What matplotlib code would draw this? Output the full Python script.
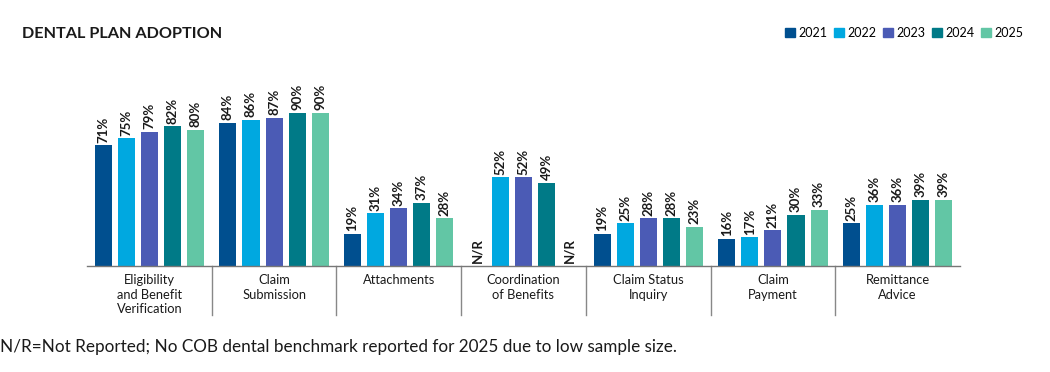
import matplotlib
matplotlib.use("Agg")
import matplotlib.pyplot as plt
import numpy as np

plt.rcParams['font.family'] = ['Lato', 'DejaVu Sans']

categories = ["Eligibility\nand Benefit\nVerification", "Claim\nSubmission", "Attachments",
              "Coordination\nof Benefits", "Claim Status\nInquiry", "Claim\nPayment", "Remittance\nAdvice"]
years = ["2021", "2022", "2023", "2024", "2025"]
values = {
    "2021": [71, 84, 19, None, 19, 16, 25],
    "2022": [75, 86, 31, 52, 25, 17, 36],
    "2023": [79, 87, 34, 52, 28, 21, 36],
    "2024": [82, 90, 37, 49, 28, 30, 39],
    "2025": [80, 90, 28, None, 23, 33, 39],
}
colors = ["#004F8F", "#00A8E0", "#4B5BB5", "#007A87", "#62C6A5"]

fig = plt.figure(figsize=(10.5, 3.72), dpi=100)
ax = fig.add_axes([87/1050, 106/372, 873/1050, 206/372])

x = np.arange(len(categories))
step = 0.185
width = 0.137
for k, yr in enumerate(years):
    vals = values[yr]
    for i, v in enumerate(vals):
        xp = x[i] + (k - 2) * step
        if v is None:
            ax.text(xp, 1.5, "N/R", rotation=90, ha='center', va='bottom',
                    fontsize=9.5, fontweight='bold', color='#1a1a1a')
            continue
        ax.bar(xp, v, width=width, color=colors[k], label=yr if i == 1 else None)
        ax.text(xp, v + 1.5, f"{v}%", rotation=90, ha='center', va='bottom',
                fontsize=9.5, fontweight='bold', color='#1a1a1a')

ax.set_xlim(-0.5, len(categories) - 0.5)
ax.set_ylim(0, 121)
for s in ['top', 'right', 'left']:
    ax.spines[s].set_visible(False)
ax.spines['bottom'].set_color('#777777')
ax.spines['bottom'].set_linewidth(1)
ax.set_yticks([])
ax.set_xticks([])

for i in range(1, len(categories)):
    ax.plot([i - 0.5, i - 0.5], [0, -0.24], transform=ax.get_xaxis_transform(),
            color='#888888', lw=1, clip_on=False)

for i, c in enumerate(categories):
    ax.text(x[i], -0.04, c, transform=ax.get_xaxis_transform(), ha='center', va='top',
            fontsize=9.3, color='#1a1a1a', linespacing=1.25)

fig.text(22/1050, 1 - 34/372, "DENTAL PLAN ADOPTION", fontsize=11.7, fontweight='bold',
         va='center', ha='left', color='#1a1a1a')

handles = [plt.Rectangle((0, 0), 1, 1, color=c) for c in colors]
fig.legend(handles, years, loc='center right', bbox_to_anchor=(1030/1050, 1 - 33/372),
           ncol=5, frameon=False, fontsize=9, handlelength=0.8, handleheight=0.8,
           handletextpad=0.3, columnspacing=0.5, borderpad=0.0)

fig.text(0, 1 - 347/372, "N/R=Not Reported; No COB dental benchmark reported for 2025 due to low sample size.",
         fontsize=12.3, va='center', ha='left', color='#1a1a1a')

fig.savefig("out.png", dpi=100)
